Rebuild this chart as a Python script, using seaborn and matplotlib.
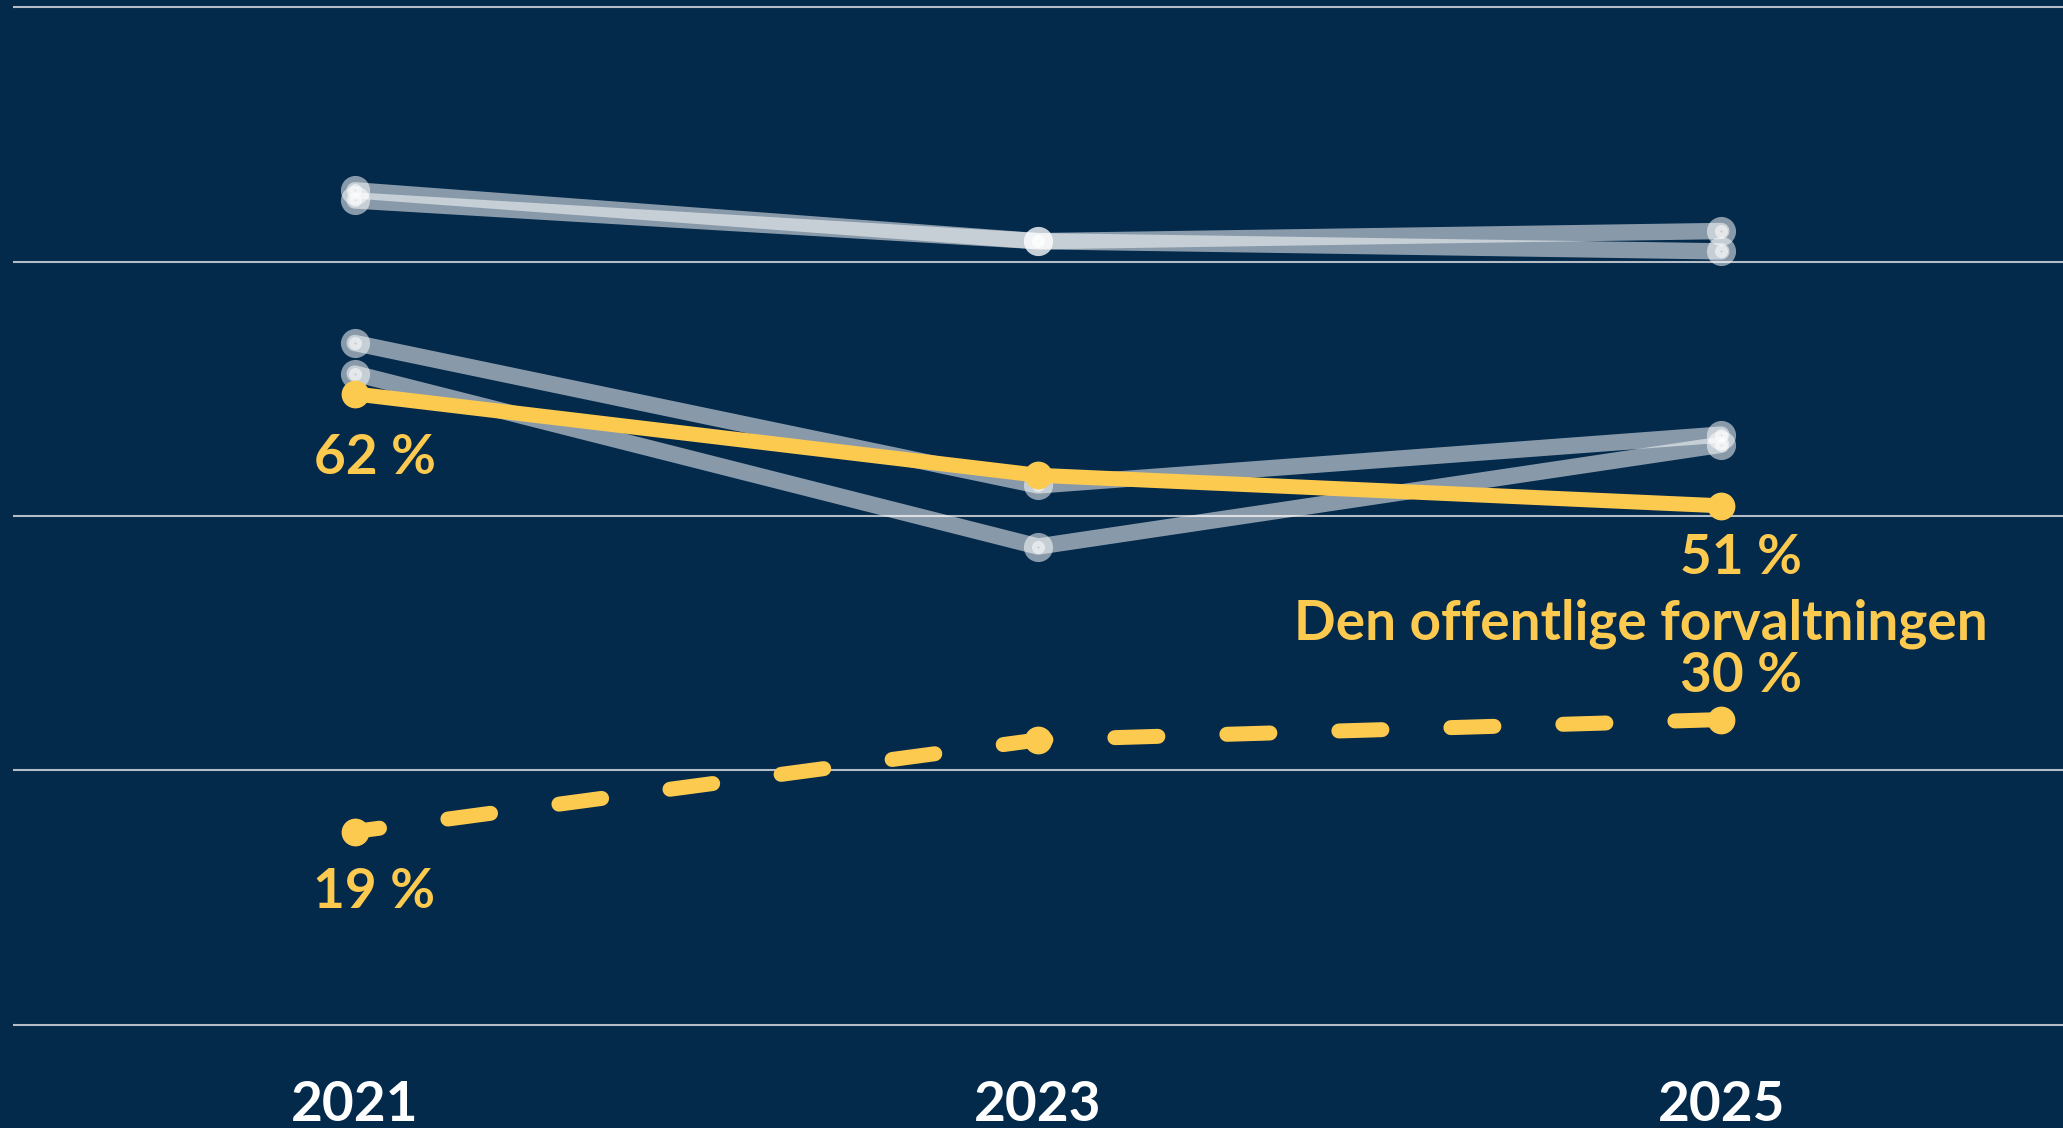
import pandas as pd
import seaborn as sns
import matplotlib.pyplot as plt

# Data (percent)
years = [2021, 2023, 2025]
gray_series = ["Gruppe A", "Gruppe B", "Gruppe C", "Gruppe D"]
gray_values = [
    [82, 77, 78],
    [81, 77, 76],
    [67, 53, 58],
    [64, 47, 57],
]
main_label = "Den offentlige forvaltningen"
main_values = [62, 54, 51]
dashed_values = [19, 28, 30]

navy = "#03294b"
yellow = "#fdca50"

rows = []
for name, vals in zip(gray_series, gray_values):
    for yr, v in zip(years, vals):
        rows.append({"series": name, "year": yr, "value": v})
gray_df = pd.DataFrame(rows)
main_df = pd.DataFrame({"year": years, "value": main_values})
dashed_df = pd.DataFrame({"year": years, "value": dashed_values})

sns.set_style("white")
plt.rcParams['font.family'] = ['Lato', 'DejaVu Sans']

fig = plt.figure(figsize=(20.63, 11.28), dpi=100)
fig.patch.set_facecolor(navy)
ax = fig.add_axes([13 / 2063, 98 / 1128, 1 - 13 / 2063, 1028 / 1128])
ax.set_facecolor(navy)

# gray comparison lines
sns.lineplot(data=gray_df, x="year", y="value", hue="series",
             palette=["white"] * 4, legend=False, ax=ax,
             linewidth=11.8, alpha=0.53, marker="o", markersize=9.4,
             markeredgewidth=11.6, markeredgecolor="white")

# dashed yellow line
sns.lineplot(data=dashed_df, x="year", y="value", ax=ax, color=yellow,
             linewidth=10.8, linestyle=(1.2, (2.87, 4.6)), dash_capstyle="round",
             marker="o", markersize=19, markeredgewidth=1,
             markeredgecolor=yellow)

# solid yellow line
sns.lineplot(data=main_df, x="year", y="value", ax=ax, color=yellow,
             linewidth=10.8, solid_capstyle="round",
             marker="o", markersize=19, markeredgewidth=1,
             markeredgecolor=yellow)

ax.set_xlim(2020, 2026)
ax.set_ylim(-0.5, 100.5)
ax.set_yticks([0, 25, 50, 75, 100])
ax.set_yticklabels([])
ax.yaxis.grid(True, color="#b4bcc5", linewidth=1.5)
ax.xaxis.grid(False)
ax.set_axisbelow(True)
ax.set_xticks(years)
ax.set_xticklabels([str(y) for y in years], fontsize=39.5, fontweight="bold",
                   color="white")
ax.tick_params(axis="x", length=0, pad=36)
ax.tick_params(axis="y", length=0)
ax.set_xlabel("")
ax.set_ylabel("")
for s in ax.spines.values():
    s.set_visible(False)

txt = dict(color=yellow, fontsize=39.5, fontweight="bold", ha="center",
           va="baseline", textcoords="offset points", annotation_clip=False)
ax.annotate(f"{main_values[0]} %", (years[0], main_values[0]), xytext=(15, -58), **txt)
ax.annotate(f"{main_values[-1]} %", (years[-1], main_values[-1]), xytext=(14, -49), **txt)
ax.annotate(main_label, (years[-1], main_values[-1]), xytext=(-58, -96.5), **txt)
ax.annotate(f"{dashed_values[0]} %", (years[0], dashed_values[0]), xytext=(14, -55), **txt)
ax.annotate(f"{dashed_values[-1]} %", (years[-1], dashed_values[-1]), xytext=(14, 19.5), **txt)

plt.savefig("out.png", dpi=100, facecolor=navy)
